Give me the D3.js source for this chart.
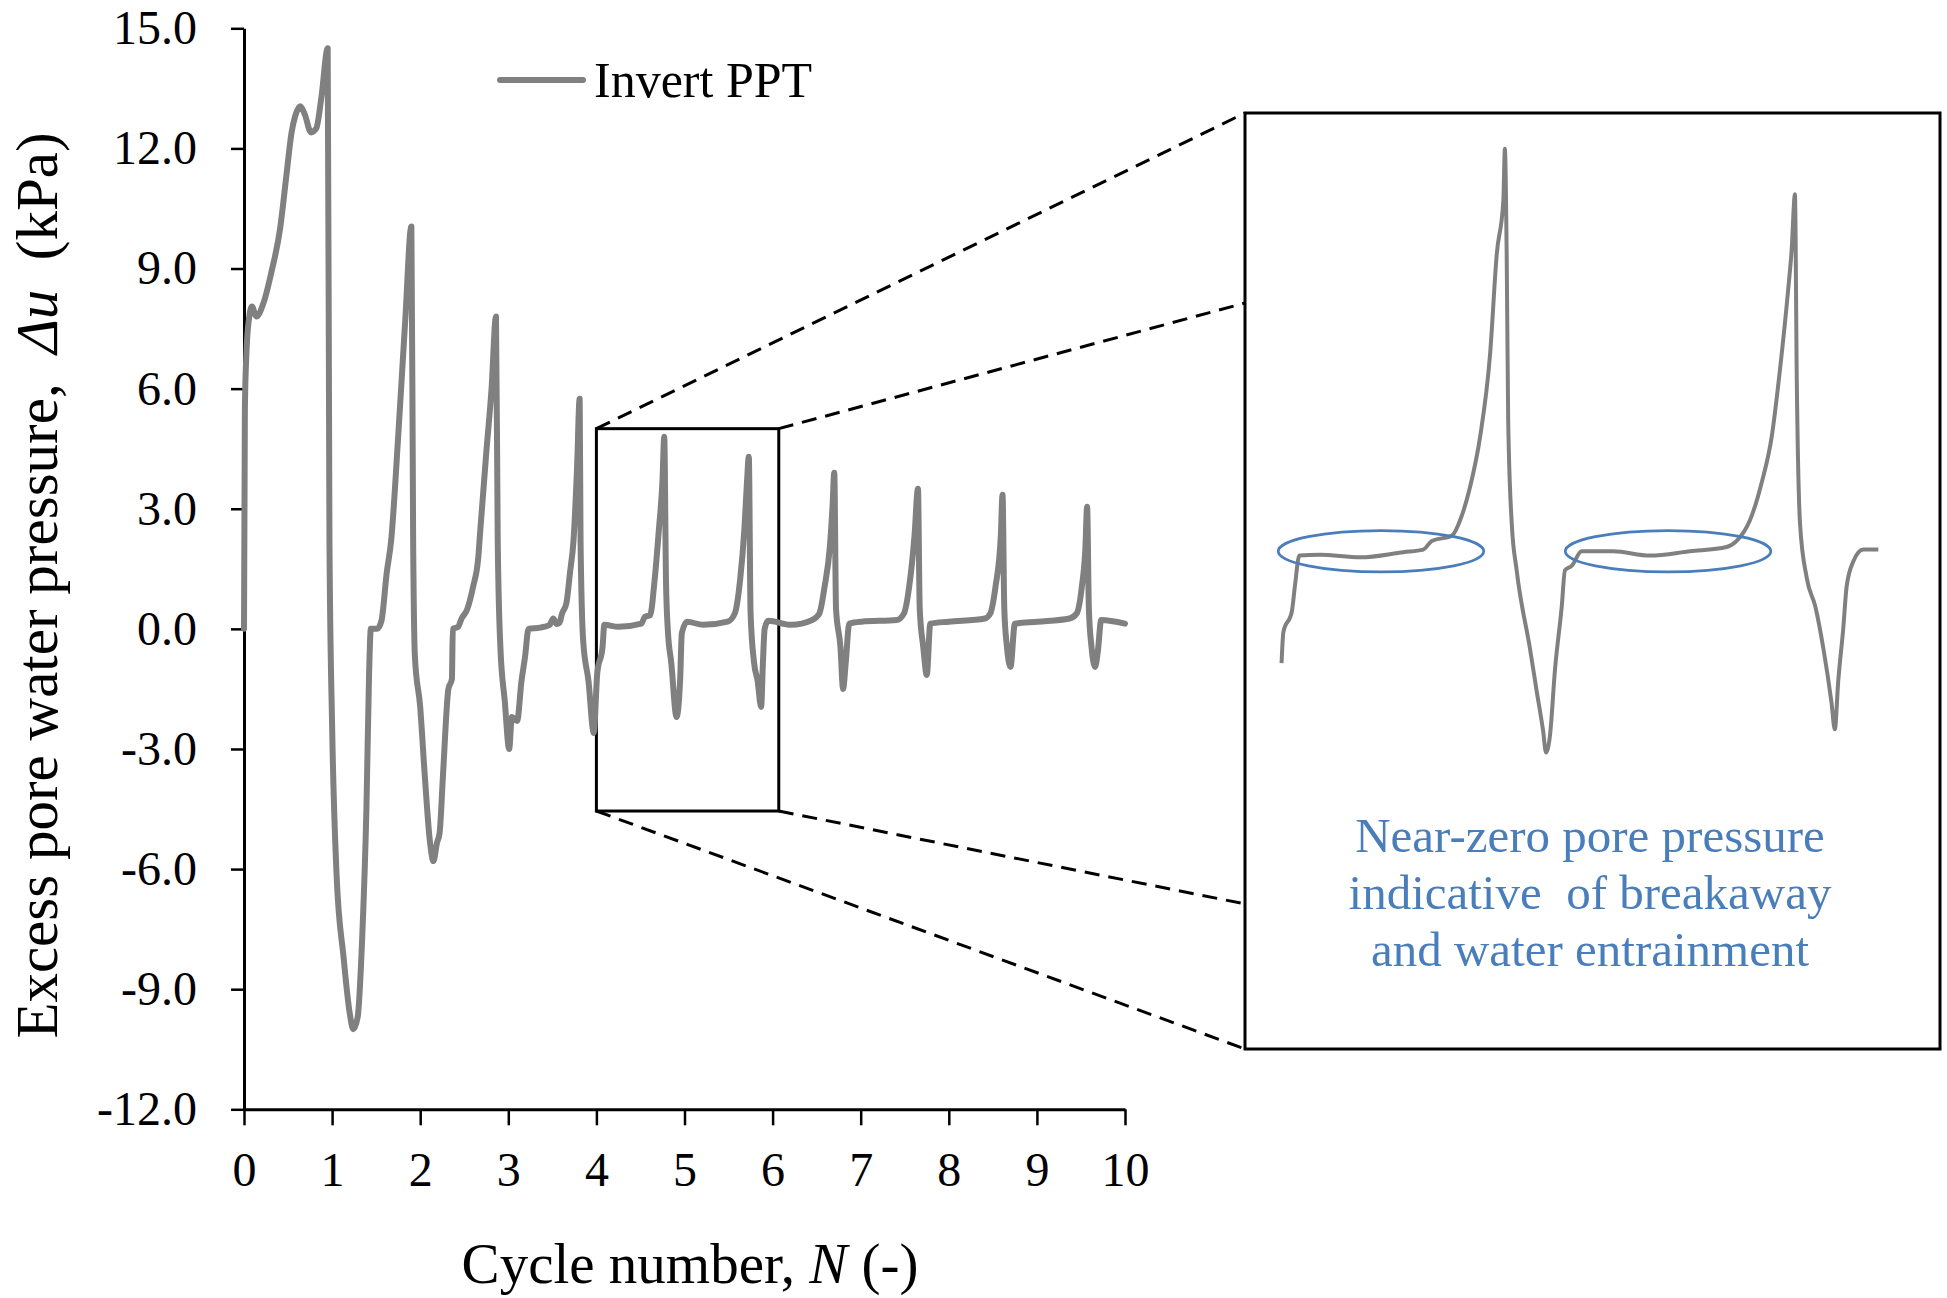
<!DOCTYPE html>
<html>
<head>
<meta charset="utf-8">
<script src="https://cdn.jsdelivr.net/npm/d3@7"></script>
<style>
  body { margin: 0; background: #fff; }
  svg text { font-family: "Liberation Serif", "Times New Roman", serif; fill: #000; }
</style>
</head>
<body>
<svg id="chart" width="1947" height="1298"></svg>
<script>
// main trace (cycle number N, excess pore pressure kPa)
const cycleN = [0.00, 0.01, 0.03, 0.06, 0.09, 0.14, 0.22, 0.31, 0.41, 0.48, 0.54, 0.58, 0.64, 0.69, 0.76, 0.82, 0.88, 0.95,
  0.97, 1.00, 1.05, 1.13, 1.20, 1.24, 1.29, 1.34, 1.39, 1.42, 1.44, 1.51, 1.56, 1.62, 1.67, 1.75, 1.83, 1.90,
  1.92, 1.94, 2.00, 2.05, 2.11, 2.15, 2.19, 2.22, 2.26, 2.32, 2.36, 2.37, 2.43, 2.47, 2.53, 2.60, 2.66, 2.68, 2.75, 2.81, 2.86,
  2.88, 2.91, 2.96, 3.01, 3.04, 3.10, 3.15, 3.19, 3.23, 3.36, 3.47, 3.51, 3.55, 3.58, 3.61, 3.66, 3.70, 3.74, 3.78, 3.81,
  3.82, 3.85, 3.91, 3.97, 4.01, 4.07, 4.09, 4.25, 4.51, 4.55, 4.61, 4.66, 4.71, 4.75, 4.77,
  4.79, 4.81, 4.85, 4.91, 4.95, 4.97, 5.03, 5.21, 5.49, 5.57, 5.63, 5.68, 5.71, 5.73,
  5.75, 5.79, 5.83, 5.87, 5.89, 5.91, 5.95, 6.21, 6.45, 6.53, 6.59, 6.65, 6.68, 6.70,
  6.72, 6.77, 6.80, 6.83, 6.87, 7.01, 7.41, 7.49, 7.55, 7.61, 7.65,
  7.67, 7.71, 7.75, 7.79, 8.00, 8.41, 8.47, 8.53, 8.59, 8.61,
  8.63, 8.66, 8.70, 8.75, 9.01, 9.37, 9.45, 9.51, 9.55, 9.57,
  9.59, 9.62, 9.66, 9.69, 9.73, 10.0];
const poreU = [0.0, 5.5, 7.0, 7.8, 8.05, 7.8, 8.13, 8.9, 10.0, 11.3, 12.4, 12.8, 13.05, 12.85, 12.4, 12.5, 13.3, 14.5,
  2.2, -2.4, -6.1, -8.2, -9.6, -10.0, -9.7, -7.8, -4.45, -1.1, 0.0, 0.0, 0.2, 1.4, 2.2, 4.8, 7.7, 10.05,
  2.2, -0.7, -1.95, -3.6, -5.3, -5.8, -5.35, -5.1, -3.6, -1.5, -1.25, 0.0, 0.05, 0.26, 0.47, 1.05, 1.8, 2.4, 4.4, 6.0, 7.8,
  2.2, -0.45, -1.8, -3.0, -2.2, -2.3, -1.3, -0.7, 0.0, 0.03, 0.1, 0.26, 0.12, 0.15, 0.38, 0.65, 1.4, 2.2, 4.0, 5.75,
  2.2, -0.3, -1.3, -2.6, -1.1, -0.45, 0.1, 0.05, 0.13, 0.3, 0.34, 1.2, 2.5, 3.7, 4.8,
  1.2, 0.0, -0.85, -2.2, -1.3, -0.1, 0.18, 0.1, 0.18, 0.38, 1.2, 2.5, 3.7, 4.3,
  0.4, -0.85, -1.3, -1.95, -0.85, 0.0, 0.2, 0.1, 0.22, 0.38, 1.05, 2.05, 3.05, 3.9,
  0.5, -0.45, -1.5, -0.85, 0.13, 0.18, 0.22, 0.38, 1.05, 2.3, 3.5,
  0.5, -0.45, -1.15, 0.13, 0.18, 0.26, 0.38, 1.05, 2.3, 3.35,
  0.5, -0.45, -0.95, 0.13, 0.18, 0.26, 0.38, 1.05, 2.0, 3.05,
  0.5, -0.45, -0.95, -0.6, 0.22, 0.13];

// finer trace shown in the inset (cycles 4 to 6)
const insetN = [4.031, 4.037, 4.065, 4.075, 4.090, 4.158, 4.291, 4.434, 4.500, 4.528, 4.594, 4.627, 4.655, 4.688, 4.721, 4.743, 4.765, 4.770,
  4.776, 4.781, 4.793, 4.809, 4.853, 4.875, 4.897, 4.906, 4.919, 4.936, 4.958, 4.969, 4.991, 5.024, 5.085, 5.129, 5.250, 5.383,
  5.504, 5.537, 5.581, 5.620, 5.653, 5.680, 5.708, 5.719, 5.730,
  5.736, 5.747, 5.769, 5.798, 5.824, 5.851, 5.862, 5.873, 5.890, 5.901, 5.923, 5.956, 6.006];
const insetU = [-1.18, -0.82, -0.58, -0.29, 0.07, 0.08, 0.05, 0.11, 0.14, 0.24, 0.30, 0.53, 0.87, 1.45, 2.41, 3.57, 4.20, 4.80,
  3.57, 1.64, 0.43, -0.10, -1.01, -1.50, -1.98, -2.22, -2.03, -1.25, -0.53, -0.10, -0.05, 0.12, 0.12, 0.12, 0.07, 0.12,
  0.17, 0.24, 0.48, 0.92, 1.45, 2.22, 3.18, 3.62, 4.27,
  2.12, 0.43, -0.19, -0.53, -1.01, -1.64, -1.95, -1.40, -0.77, -0.29, 0.00, 0.14, 0.14];

const xTicks = [0, 1, 2, 3, 4, 5, 6, 7, 8, 9, 10];
const yTicks = [-12, -9, -6, -3, 0, 3, 6, 9, 12, 15];

const zoomWindow = { n: [4.0, 6.07], u: [-4.55, 5.0] };
const breakawayZones = [
  { n: [4.02, 4.70], u: [-0.12, 0.36] },
  { n: [4.97, 5.65], u: [-0.12, 0.36] }
];
const noteLines = ["Near-zero pore pressure", "indicative  of breakaway", "and water entrainment"];
const legendLabel = "Invert PPT";

const svg = d3.select("#chart");
const grey = "#808080";
const blue = "#4a7ebb";

// main plot area
const x = d3.scaleLinear().domain([0, 10]).range([244, 1125]);
const y = d3.scaleLinear().domain([-12, 15]).range([1109.3, 28.3]);

// inset panel
const inset = { x0: 1245, y0: 113, x1: 1940, y1: 1049 };
const xIn = d3.scaleLinear().domain([3.91, 6.21]).range([inset.x0, inset.x1]);
const yIn = d3.scaleLinear().domain([-5.667, 5.216]).range([inset.y1, inset.y0]);

// connectors from the zoom window to the inset
const zx0 = x(zoomWindow.n[0]), zx1 = x(zoomWindow.n[1]);
const zy0 = y(zoomWindow.u[1]), zy1 = y(zoomWindow.u[0]);
const ih = inset.y1 - inset.y0;
const links = [
  [zx0, zy0, inset.x0, inset.y0],
  [zx1, zy0, inset.x0, inset.y0 + 0.203 * ih],
  [zx1, zy1, inset.x0, inset.y0 + 0.845 * ih],
  [zx0, zy1, inset.x0, inset.y1]
];
svg.selectAll(".link").data(links).enter().append("line")
  .attr("class", "link")
  .attr("x1", d => d[0]).attr("y1", d => d[1])
  .attr("x2", d => d[2]).attr("y2", d => d[3])
  .attr("stroke", "#000").attr("stroke-width", 3)
  .attr("stroke-dasharray", "15,9");

// axes
const yAxis = svg.append("g")
  .attr("transform", `translate(${x(0)},0)`)
  .call(d3.axisLeft(y).tickValues(yTicks).tickSize(13).tickSizeOuter(0).tickPadding(34)
    .tickFormat(d => d.toFixed(1)));
const xAxis = svg.append("g")
  .attr("transform", `translate(0,${y(-12)})`)
  .call(d3.axisBottom(x).tickValues(xTicks).tickSize(16).tickSizeOuter(0).tickPadding(27)
    .tickFormat(d => d));
[yAxis, xAxis].forEach(g => {
  g.attr("font-family", null).attr("font-size", null);
  g.select(".domain").attr("stroke", "#000").attr("stroke-width", 3);
  g.selectAll(".tick line").attr("stroke", "#000").attr("stroke-width", 2.5);
  g.selectAll(".tick text").attr("font-size", 48).attr("fill", "#000");
});

// zoom window
svg.append("rect")
  .attr("x", zx0).attr("y", zy0)
  .attr("width", zx1 - zx0).attr("height", zy1 - zy0)
  .attr("fill", "none").attr("stroke", "#000").attr("stroke-width", 3);

// main trace
const line = d3.line().x(d => x(d[0])).y(d => y(d[1])).curve(d3.curveMonotoneX);
svg.append("path")
  .datum(cycleN.map((n, i) => [n, poreU[i]]))
  .attr("d", line)
  .attr("fill", "none").attr("stroke", grey).attr("stroke-width", 6)
  .attr("stroke-linejoin", "round").attr("stroke-linecap", "round");

// legend
svg.append("line")
  .attr("x1", 500).attr("x2", 583).attr("y1", 80).attr("y2", 80)
  .attr("stroke", grey).attr("stroke-width", 6).attr("stroke-linecap", "round");
svg.append("text").attr("x", 594).attr("y", 96.7).attr("font-size", 50).text(legendLabel);

// axis titles
const xt = svg.append("text")
  .attr("x", 690).attr("y", 1283).attr("text-anchor", "middle").attr("font-size", 57)
  .style("white-space", "pre");
xt.append("tspan").text("Cycle number, ");
xt.append("tspan").attr("font-style", "italic").text("N");
xt.append("tspan").text(" (-)");

const yt = svg.append("text")
  .attr("transform", "translate(57,585.5) rotate(-90)")
  .attr("text-anchor", "middle").attr("font-size", 59)
  .style("white-space", "pre");
yt.append("tspan").text("Excess pore water pressure,  ");
yt.append("tspan").attr("font-style", "italic").text("\u0394u");
yt.append("tspan").text("  (kPa)");

// inset panel
svg.append("rect")
  .attr("x", inset.x0).attr("y", inset.y0)
  .attr("width", inset.x1 - inset.x0).attr("height", ih)
  .attr("fill", "none").attr("stroke", "#000").attr("stroke-width", 3);

const lineIn = d3.line().x(d => xIn(d[0])).y(d => yIn(d[1])).curve(d3.curveMonotoneX);
svg.append("path")
  .datum(insetN.map((n, i) => [n, insetU[i]]))
  .attr("d", lineIn)
  .attr("fill", "none").attr("stroke", grey).attr("stroke-width", 4)
  .attr("stroke-linejoin", "round");

svg.selectAll(".zone").data(breakawayZones).enter().append("ellipse")
  .attr("class", "zone")
  .attr("cx", d => (xIn(d.n[0]) + xIn(d.n[1])) / 2)
  .attr("cy", d => (yIn(d.u[0]) + yIn(d.u[1])) / 2)
  .attr("rx", d => (xIn(d.n[1]) - xIn(d.n[0])) / 2)
  .attr("ry", d => (yIn(d.u[0]) - yIn(d.u[1])) / 2)
  .attr("fill", "none").attr("stroke", blue).attr("stroke-width", 2.7);

svg.selectAll(".note").data(noteLines).enter().append("text")
  .attr("class", "note")
  .attr("x", 1590).attr("y", (d, i) => 852 + i * 57)
  .attr("text-anchor", "middle").attr("font-size", 49)
  .style("white-space", "pre")
  .style("fill", blue)
  .text(d => d);
</script>
</body>
</html>
